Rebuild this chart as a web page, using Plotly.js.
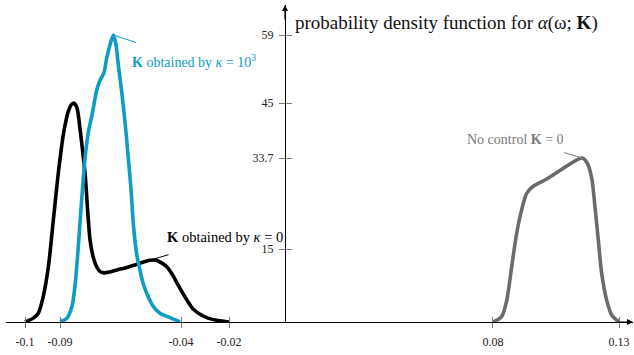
<!DOCTYPE html>
<html>
<head>
<meta charset="utf-8">
<script src="https://cdn.plot.ly/plotly-3.0.1.min.js"></script>
<style>
  html, body { margin: 0; padding: 0; background: #fff; }
  #chart { width: 634px; height: 355px; }
</style>
</head>
<body>
<div id="chart"></div>
<script>
// Density of alpha(omega; K) for the gain obtained with kappa = 0
const xKappa0 = [-0.1000, -0.0968, -0.0949, -0.0930, -0.0910, -0.0891, -0.0881, -0.0872, -0.0862, -0.0853,
                 -0.0842, -0.0834, -0.0823, -0.0813, -0.0801, -0.0788, -0.0776, -0.0769, -0.0757, -0.0750,
                 -0.0737, -0.0724, -0.0712, -0.0696, -0.0673, -0.0646, -0.0615, -0.0585, -0.0558, -0.0519,
                 -0.0496, -0.0473, -0.0454, -0.0435, -0.0415, -0.0396, -0.0377, -0.0354, -0.0327, -0.0296,
                 -0.0258, -0.0215];
const yKappa0 = [0.0, 0.8, 1.8, 5.2, 11.4, 21.0, 26.1, 30.6, 34.9, 38.4,
                 41.5, 43.2, 44.6, 45.0, 44.2, 39.5, 34.0, 30.6, 21.4, 16.9,
                 13.2, 11.3, 10.4, 10.1, 10.3, 10.7, 11.1, 11.6, 12.1, 12.7,
                 12.7, 12.1, 11.3, 9.9, 8.0, 6.2, 4.5, 2.7, 1.6, 0.8,
                 0.3, 0.0];

// Density for the gain obtained with kappa = 10^3
const xKappa1e3 = [-0.0865, -0.0840, -0.0820, -0.0808, -0.0795, -0.0785, -0.0776, -0.0769, -0.0757, -0.0740,
                   -0.0724, -0.0712, -0.0696, -0.0686, -0.0673, -0.0660, -0.0650, -0.0641, -0.0628, -0.0615,
                   -0.0603, -0.0592, -0.0583, -0.0570, -0.0558, -0.0546, -0.0531, -0.0508, -0.0481, -0.0442,
                   -0.0404];
const yKappa1e3 = [0.0, 0.7, 3.1, 7.3, 15.5, 23.0, 29.4, 33.7, 38.8, 43.2,
                   47.7, 49.6, 51.3, 54.2, 57.0, 59.0, 57.0, 52.8, 47.3, 40.9,
                   33.9, 27.1, 20.0, 13.8, 10.7, 8.0, 5.8, 3.3, 1.8, 0.9,
                   0.0];

// Density without control (K = 0)
const xNoControl = [0.0801, 0.0833, 0.0853, 0.0872, 0.0891, 0.0910, 0.0930, 0.0955, 0.1010, 0.1062,
                    0.1112, 0.1144, 0.1163, 0.1180, 0.1192, 0.1205, 0.1218, 0.1237, 0.1257, 0.1276,
                    0.1285];
const yNoControl = [0.0, 1.1, 4.5, 11.4, 18.2, 23.0, 26.5, 27.9, 29.5, 31.3,
                    33.0, 33.7, 32.6, 29.5, 23.8, 16.9, 10.0, 4.5, 1.4, 0.4,
                    0.0];

// Axis ticks: positions and their printed labels
const xTickVals = [-0.1, -0.0865, -0.04, -0.0215, 0.08, 0.1285];
const xTickText = ['-0.1', '-0.09', '-0.04', '-0.02', '0.08', '0.13'];
const yTickVals = [15, 33.7, 45, 59];
const yTickText = ['15', '33.7', '45', '59'];

const xRange = [-0.10731, 0.13385];
const yRange = [0, 65.17];

const serif = '"Liberation Serif", "DejaVu Serif", serif';
const blue = '#0f9cc4';
const grey = '#6b6b6b';
const greyText = '#7a7a7a';

function peakIndex(ys, from) {
  let best = from || 0;
  for (let i = best; i < ys.length; i++) if (ys[i] > ys[best]) best = i;
  return best;
}

const traces = [
  { x: xKappa0, y: yKappa0, mode: 'lines', line: { color: '#000', width: 3.6, shape: 'spline', smoothing: 0.8 },
    hoverinfo: 'skip', showlegend: false },
  { x: xKappa1e3, y: yKappa1e3, mode: 'lines', line: { color: blue, width: 3.6, shape: 'spline', smoothing: 0.8 },
    hoverinfo: 'skip', showlegend: false },
  { x: xNoControl, y: yNoControl, mode: 'lines', line: { color: grey, width: 3.6, shape: 'spline', smoothing: 0.8 },
    hoverinfo: 'skip', showlegend: false },
  // carries the overlay axes that draw the opposite half of each tick mark
  { x: [], y: [], xaxis: 'x2', yaxis: 'y2', mode: 'lines', hoverinfo: 'skip', showlegend: false }
];

const iBlue = peakIndex(yKappa1e3);
const iGrey = peakIndex(yNoControl);
const iBump = peakIndex(yKappa0, xKappa0.findIndex(v => v > -0.07));

const labelFont = { family: serif, size: 14 };

const annotations = [
  // axis arrows
  { x: xRange[1], y: 0, xref: 'x', yref: 'y', text: '', showarrow: true, arrowhead: 2, arrowsize: 1,
    arrowwidth: 1.2, arrowcolor: '#000', ax: -16, ay: 0 },
  { x: 0, y: yRange[1], xref: 'x', yref: 'y', text: '', showarrow: true, arrowhead: 2, arrowsize: 1,
    arrowwidth: 1.2, arrowcolor: '#000', ax: 0, ay: 16 },

  // kappa = 10^3 label and leader
  { x: xKappa1e3[iBlue], y: yKappa1e3[iBlue], xref: 'x', yref: 'y', showarrow: false,
    text: '<b>K</b> obtained by <i>κ</i> = 10<sup>3</sup>', font: Object.assign({ color: blue }, labelFont),
    xanchor: 'left', yanchor: 'middle', xshift: 17, yshift: -26 },
  { x: xKappa1e3[iBlue], y: yKappa1e3[iBlue], xref: 'x', yref: 'y', text: '', showarrow: true,
    arrowhead: 0, arrowwidth: 1, arrowcolor: blue, ax: 24, ay: 8 },

  // kappa = 0 label and leader
  { x: xKappa0[iBump], y: yKappa0[iBump], xref: 'x', yref: 'y', showarrow: false,
    text: '<b>K</b> obtained by <i>κ</i> = 0', font: { family: serif, size: 14.5, color: '#000' },
    xanchor: 'left', yanchor: 'middle', xshift: 15, yshift: 23 },
  { x: xKappa0[iBump], y: yKappa0[iBump], xref: 'x', yref: 'y', text: '', showarrow: true,
    arrowhead: 0, arrowwidth: 1, arrowcolor: '#000', ax: 20, ay: -6 },

  // no-control label and leader
  { x: xNoControl[iGrey], y: yNoControl[iGrey], xref: 'x', yref: 'y', showarrow: false,
    text: 'No control <b>K</b> = 0', font: Object.assign({ color: greyText }, labelFont),
    xanchor: 'right', yanchor: 'middle', xshift: -16, yshift: 19 },
  { x: xNoControl[iGrey], y: yNoControl[iGrey], xref: 'x', yref: 'y', text: '', showarrow: true,
    arrowhead: 0, arrowwidth: 1, arrowcolor: greyText, ax: -20, ay: -6 }
];

const yPos = (0 - xRange[0]) / (xRange[1] - xRange[0]);

const tickFont = { family: serif, size: 12, color: '#222' };

const layout = {
  width: 634, height: 355,
  margin: { l: 6, r: 1, t: 5, b: 33 },
  paper_bgcolor: '#fff', plot_bgcolor: '#fff',
  showlegend: false,
  title: {
    text: 'probability density function for <i>α</i>(ω; <b>K</b>)',
    font: { family: serif, size: 19, color: '#111' },
    xref: 'paper', yref: 'container', x: (295 - 6) / 627, xanchor: 'left', y: 1 - 22 / 355, yanchor: 'middle'
  },
  xaxis: {
    range: xRange, autorange: false, fixedrange: true,
    showgrid: false, zeroline: false,
    showline: true, linecolor: '#000', linewidth: 1.2,
    tickmode: 'array', tickvals: xTickVals, ticktext: xTickText,
    ticks: 'outside', ticklen: 5, tickwidth: 1, tickcolor: '#777',
    tickfont: tickFont, ticklabelstandoff: 3
  },
  xaxis2: {
    overlaying: 'x', anchor: 'y', side: 'bottom',
    range: xRange, autorange: false, fixedrange: true,
    showgrid: false, zeroline: false, showline: false,
    tickmode: 'array', tickvals: xTickVals, showticklabels: false,
    ticks: 'inside', ticklen: 5, tickwidth: 1, tickcolor: '#777'
  },
  yaxis: {
    range: yRange, autorange: false, fixedrange: true,
    anchor: 'free', position: yPos,
    showgrid: false, zeroline: false,
    showline: true, linecolor: '#000', linewidth: 1.2,
    tickmode: 'array', tickvals: yTickVals, ticktext: yTickText,
    ticks: 'outside', ticklen: 6, tickwidth: 1, tickcolor: '#777',
    tickfont: tickFont, ticklabelstandoff: 3
  },
  yaxis2: {
    overlaying: 'y', anchor: 'free', position: yPos, side: 'left',
    range: yRange, autorange: false, fixedrange: true,
    showgrid: false, zeroline: false, showline: false,
    tickmode: 'array', tickvals: yTickVals, showticklabels: false,
    ticks: 'inside', ticklen: 6, tickwidth: 1, tickcolor: '#777'
  },
  annotations: annotations
};

Plotly.newPlot('chart', traces, layout, { staticPlot: true, displayModeBar: false });
</script>
</body>
</html>
